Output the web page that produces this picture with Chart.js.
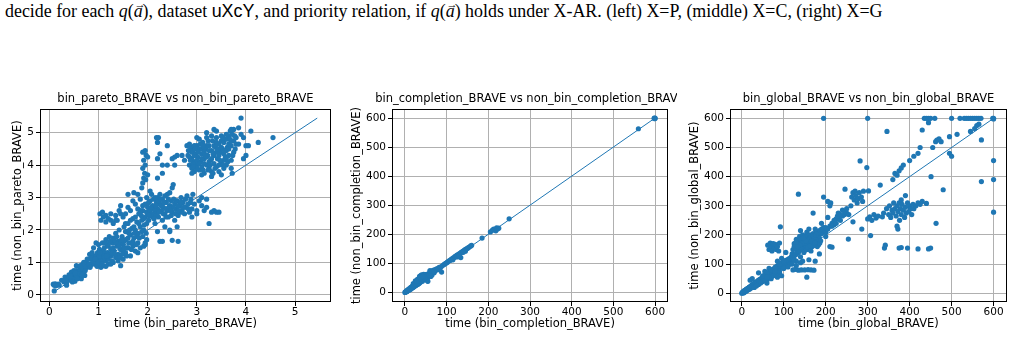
<!DOCTYPE html>
<html>
<head>
<meta charset="utf-8">
<script src="https://cdn.jsdelivr.net/npm/chart.js@4.4.1/dist/chart.umd.min.js"></script>
<style>
  html,body{margin:0;padding:0;background:#fff;}
  body{width:1013px;height:360px;overflow:hidden;position:relative;}
  #caption{position:absolute;left:5px;top:1px;font-family:'Liberation Serif',serif;font-size:17.9px;color:#000;white-space:nowrap;line-height:21px;}
  .vec{position:relative;display:inline-block;}
  .vec .arr{position:absolute;left:0.05em;top:-0.62em;font-size:0.62em;font-style:normal;}
  .wrap{position:absolute;top:85px;height:250px;overflow:hidden;}
  canvas{position:absolute;top:0;}
</style>
</head>
<body>
<div id="caption">decide for each <i>q</i>(<span class="vec"><i>a</i><span class="arr">&rarr;</span></span>), dataset <span style="font-family:'Liberation Sans',sans-serif">uXcY</span>, and priority relation, if <i>q</i>(<span class="vec"><i>a</i><span class="arr">&rarr;</span></span>) holds under X-AR. (left) X=P, (middle) X=C, (right) X=G</div>

<div class="wrap" style="left:0;width:371px;"><canvas id="c1" width="371" height="250" style="left:0"></canvas></div>
<div class="wrap" style="left:340px;width:337px;"><canvas id="c2" width="370" height="250" style="left:5px"></canvas></div>
<div class="wrap" style="left:680px;width:333px;"><canvas id="c3" width="367" height="250" style="left:5px"></canvas></div>

<script>
// ---------- DATA ----------
const paretoTitle = "bin_pareto_BRAVE vs non_bin_pareto_BRAVE";
const completionTitle = "bin_completion_BRAVE vs non_bin_completion_BRAVE";
const globalTitle = "bin_global_BRAVE vs non_bin_global_BRAVE";

const paretoTicks = [0, 1, 2, 3, 4, 5];
const secondsTicks = [0, 100, 200, 300, 400, 500, 600];

const paretoIdentity = [0.1, 5.45];
const completionIdentity = [0, 600];
const globalIdentity = [0, 600];

const paretoPoints = [
 [0.08,0.33],[0.1,0.3],[0.12,0.34],[0.15,0.31],[0.18,0.33],[0.2,0.3],[0.1,0.12],[0.13,0.28],
 [0.3,0.4],[0.32,0.55],[0.35,0.35],[0.38,0.5],[0.4,0.62],[0.42,0.45],[0.45,0.7],[0.48,0.55],[0.5,0.6],[0.52,0.42],[0.55,0.75],[0.55,0.9],[0.58,0.65],[0.6,0.55],[0.62,0.8],[0.65,0.7],[0.68,0.95],[0.7,0.85],[0.72,0.6],[0.75,1.0],[0.78,0.9],[0.8,1.1],[0.82,1.25],[0.85,0.95],[0.88,1.05],[0.9,1.45],[0.92,1.2],[0.95,1.0],[0.98,1.3],[1.0,0.9],[0.35,0.3],[0.45,0.5],[0.6,0.7],[0.65,0.5],[0.7,1.0],[0.5,0.75],[0.25,0.45],[0.4,0.55],
 [0.55,0.6],[0.62,0.65],[0.68,0.8],[0.75,0.85],[0.8,0.95],[0.85,1.15],[0.9,1.0],[0.92,0.95],[0.98,1.1],
 [0.33,0.45],[0.43,0.58],[0.47,0.4],[0.53,0.68],[0.57,0.5],[0.63,0.9],[0.67,0.62],[0.73,0.75],[0.77,1.1],[0.83,0.85],[0.87,1.3],[0.93,1.1],[0.97,0.88],
 [1.0,1.0],[1.02,1.4],[1.05,1.15],[1.05,0.85],[1.08,1.6],[1.1,1.25],[1.1,0.9],[1.12,1.45],[1.15,1.05],[1.15,1.7],[1.18,1.3],[1.2,1.5],[1.2,0.95],[1.22,1.8],[1.25,1.2],[1.25,1.4],[1.28,1.6],[1.3,1.0],[1.3,1.75],[1.32,1.35],[1.35,1.9],[1.35,1.15],[1.38,1.5],[1.4,1.25],[1.4,1.65],[1.42,2.0],[1.45,1.4],[1.45,0.9],[1.48,1.8],[1.5,1.55],[1.5,1.1],[1.52,2.1],[1.55,1.3],[1.55,1.7],[1.58,1.95],[1.6,1.45],[1.6,2.2],[1.62,1.6],[1.65,1.85],[1.65,1.2],[1.68,2.05],[1.7,1.5],[1.7,2.35],[1.72,1.75],[1.75,2.0],[1.75,1.35],[1.78,2.25],[1.8,1.6],[1.8,1.9],[1.82,2.5],[1.85,2.1],[1.85,1.45],[1.88,2.3],[1.9,1.8],[1.9,2.6],[1.92,2.0],[1.95,2.4],[1.95,1.55],[1.98,2.2],[0.95,1.6],[1.0,1.55],[1.1,1.35],[1.2,1.1],[1.3,1.45],[1.4,1.05],[1.5,1.35],[1.6,1.75],[1.7,1.65],[1.8,1.3],[1.25,0.95],[1.15,0.88],[1.45,1.6],[1.55,1.95],[1.35,1.6],[1.92,1.5],[1.95,1.6],[1.98,1.7],
 [1.02,1.2],[1.08,1.05],[1.12,1.15],[1.18,1.55],[1.22,1.25],[1.28,1.3],[1.32,1.7],[1.38,1.2],[1.42,1.5],[1.48,1.25],[1.52,1.65],[1.58,1.45],[1.62,1.9],[1.68,1.6],[1.72,2.1],[1.78,1.8],[1.82,2.2],[1.88,1.95],[1.92,2.35],[1.98,2.55],[1.75,2.4],[1.85,2.6],[1.9,2.75],[1.8,2.65],[1.65,2.3],[1.55,2.2],
 [1.03,1.3],[1.07,0.95],[1.13,1.6],[1.17,1.2],[1.23,1.65],[1.27,1.05],[1.33,1.25],[1.37,1.8],[1.43,1.15],[1.47,1.7],[1.53,1.45],[1.57,1.2],[1.63,2.0],[1.67,1.4],[1.73,1.9],[1.77,1.55],[1.83,1.75],[1.87,2.45],[1.93,2.15],[1.97,1.9],[1.15,2.45],[1.25,2.3],[1.45,2.5],[1.35,2.3],
 [1.03,2.5],[1.05,2.3],[1.08,2.55],[1.1,2.4],[1.15,2.25],[1.2,2.35],[1.25,2.5],[1.3,2.2],[1.35,2.45],[1.38,2.3],[1.42,2.6],[1.45,2.75],[1.5,2.4],[1.55,2.5],[1.6,2.7],[1.65,2.6],[1.7,2.9],[1.75,2.8],[1.8,3.1],[1.85,2.95],[1.72,3.15],[1.6,3.1],
 [1.95,2.8],[1.98,3.0],[2.0,2.5],[2.0,2.7],[2.02,2.3],[2.05,2.9],[2.05,2.6],[2.08,3.1],[2.1,2.4],[2.1,2.75],[2.12,2.95],[2.15,2.55],[2.15,2.2],[2.18,2.85],[2.2,2.65],[2.2,3.0],[2.22,2.4],[2.25,2.8],[2.28,2.6],[2.3,2.95],[2.3,2.3],[2.32,2.7],[2.35,2.5],[2.38,2.85],[2.4,3.1],[2.4,2.6],[2.42,2.4],[2.45,2.75],[2.48,2.9],[2.5,2.55],[2.5,3.3],[2.52,3.4],[2.55,2.8],[2.55,2.3],[2.58,2.65],[2.6,2.9],[2.62,2.45],[2.65,2.75],[2.68,3.0],[2.7,2.6],[2.72,2.85],[2.75,2.5],[2.78,2.7],[2.8,3.05],[2.82,2.8],[2.85,2.55],[2.88,2.95],[2.9,2.65],[2.92,3.1],[2.95,2.8],[3.0,2.6],[3.05,2.9],[3.1,2.75],[3.15,2.6],[3.2,2.7],[3.3,2.55],[3.4,2.55],[3.45,2.55],[3.25,2.2],[3.35,2.6],[3.2,2.95],[3.0,2.5],[2.9,2.4],[3.1,3.0],[2.45,2.0],[2.35,2.1],[2.2,1.95],[2.6,2.1],[2.25,1.65],[2.3,1.65],[2.5,1.68],[2.62,1.65],[2.45,1.95],
 [2.02,2.85],[2.08,2.5],[2.12,2.65],[2.18,2.45],[2.22,2.9],[2.28,2.75],[2.32,2.5],[2.38,2.65],[2.42,2.95],[2.48,2.45],[2.52,2.7],[2.58,2.9],[2.62,2.75],[2.68,2.55],[2.35,3.05],[2.25,3.1],[2.15,3.0],[2.05,3.2],[2.45,3.15],
 [2.03,2.45],[2.07,2.7],[2.13,2.35],[2.17,2.75],[2.23,2.55],[2.27,2.95],[2.33,2.85],[2.37,2.4],[2.43,2.7],[2.47,2.6],[2.53,2.95],[2.57,2.5],[2.63,2.6],[2.67,2.85],[2.73,2.7],[2.77,2.95],[2.83,2.65],[2.87,2.85],
 [1.9,3.45],[1.92,3.6],[1.94,3.75],[1.9,3.9],[1.95,4.0],[1.92,4.15],[1.97,4.3],[1.9,4.4],[1.95,4.45],[2.0,4.25],[1.88,3.3],[2.0,3.7],[1.96,3.55],
 [2.18,4.85],[2.22,4.85],[2.2,4.7],[2.2,4.2],[2.25,4.35],[2.2,3.6],[2.3,4.0],[2.4,4.0],[2.5,4.2],[2.55,4.25],[2.6,4.3],[2.7,4.3],[2.55,4.0],[2.4,4.6],[2.75,4.15],[2.3,3.75],
 [2.8,4.6],[2.82,4.3],[2.85,4.0],[2.88,4.55],[2.9,3.9],[2.9,4.2],[2.92,4.45],[2.95,4.1],[2.95,3.8],[2.98,4.35],[3.0,4.0],[3.0,4.6],[3.02,4.25],[3.05,3.85],[3.05,4.5],[3.08,4.1],[3.1,4.35],[3.1,3.95],[3.12,4.7],[3.15,4.2],[3.15,3.75],[3.18,4.5],[3.2,4.0],[3.2,5.0],[3.22,4.3],[3.25,4.6],[3.25,3.9],[3.28,4.15],[3.3,4.45],[3.3,3.8],[3.32,4.75],[3.35,4.05],[3.35,4.3],[3.38,4.55],[3.4,3.95],[3.4,4.85],[3.42,4.2],[3.45,4.65],[3.45,3.8],[3.48,4.4],[3.5,4.1],[3.5,4.9],[3.52,4.5],[3.55,3.9],[3.55,4.7],[3.58,4.25],[3.6,4.8],[3.6,4.0],[3.62,4.55],[3.65,4.9],[3.65,4.3],[3.68,5.05],[3.7,4.6],[3.7,4.15],[3.72,4.95],[3.75,4.75],[3.75,5.1],[3.78,4.5],[3.8,4.85],[3.7,3.9],[3.72,3.75],[3.5,3.7],[3.3,3.65],[3.1,3.7],[2.9,3.75],[3.05,4.8],[3.2,4.85],[3.35,5.1],[3.4,5.05],[3.0,4.85],[2.85,4.65],[3.6,4.45],[3.45,4.0],[3.25,4.45],[3.15,4.05],[2.95,4.6],[3.55,4.35],[3.65,4.65],
 [2.85,4.25],[2.9,4.4],[2.95,4.3],[3.0,4.15],[3.05,4.05],[3.1,4.5],[3.15,4.4],[3.2,4.25],[3.25,4.1],[3.3,4.2],[3.35,4.6],[3.4,4.4],[3.45,4.3],[3.5,4.55],[3.55,4.15],[3.6,4.2],[3.65,4.5],[3.7,4.75],[3.75,4.4],[3.8,4.65],[3.0,3.9],[3.1,4.2],[3.2,4.6],[3.3,4.9],[3.5,4.75],[3.6,4.95],[3.7,5.1],[3.4,4.7],[3.15,4.55],[2.92,4.05],
 [2.83,4.45],[2.87,4.15],[2.93,3.95],[2.97,4.5],[3.03,4.4],[3.07,4.65],[3.13,3.85],[3.17,4.3],[3.23,4.75],[3.27,4.0],[3.33,4.35],[3.37,3.9],[3.43,4.5],[3.47,4.15],[3.53,4.85],[3.57,4.45],[3.63,4.1],[3.67,4.8],[3.73,4.3],[3.77,4.9],[3.33,3.75],[3.13,4.6],[3.53,4.0],[3.23,3.85],
 [3.9,5.45],[3.85,5.15],[4.1,5.05],[3.95,4.85],[4.0,4.6],[4.05,4.6],[4.25,4.7],[4.55,4.85],[4.0,4.3],[3.95,4.2],[3.85,4.65],[3.9,4.95]
];

const completionPoints = [
 [0,0],[1,1],[2,3],[3,2],[4,5],[5,4],[6,8],[7,6],[8,10],[9,7],[10,12],[11,9],[12,14],[13,11],[14,17],[15,13],[16,18],[17,15],[18,22],[19,17],[20,24],[21,19],[22,26],[23,21],[24,28],[25,23],[26,30],[27,25],[28,32],[29,27],[30,35],[31,28],[32,38],[33,30],[34,45],[35,55],[36,33],[38,58],[40,42],[40,60],[42,38],[44,50],[45,45],[46,52],[48,60],[50,55],[50,48],[52,62],[54,40],[55,58],[56,52],[58,65],[60,62],[60,70],[62,55],[64,72],[65,60],[66,75],[68,70],[70,68],[70,78],[72,74],[75,80],[78,82],[80,78],[82,86],[85,85],[88,90],[88,70],[92,94],[95,97],[98,100],
 [30,45],[25,40],[38,50],[55,38],[20,30],[45,62],[65,68],
 [2,1],[4,3],[6,5],[8,7],[10,9],[12,11],[14,13],[16,15],[18,17],[20,20],[22,22],[24,24],[26,27],[28,29],[30,30],[32,33],[34,34],[36,38],[38,40],[40,45],[42,44],[44,46],[46,48],[48,52],[50,52],[52,55],[55,60],[58,60],[62,66],[68,72],[72,76],[76,78],[35,48],[42,55],[28,38],[60,75],[65,72],[70,72],
 [100,102],[102,104],[105,108],[108,110],[110,112],[112,115],[115,118],[118,120],[120,123],[122,125],[125,128],[128,130],[130,133],[133,135],[134,120],[135,138],[138,140],[140,142],[142,145],[145,148],[148,150],[150,152],[152,154],[155,157],[158,160],[160,162],
 [115,112],[125,122],[130,125],[145,142],[140,138],
 [185,187],[205,208],[210,214],[213,218],[216,216],[218,212],[220,222],[222,218],[225,221],[250,253],[560,563],[598,600],[600,600],[600,598],[598,598]
];

const globalPoints = [
 [0,0],[2,3],[3,1],[4,6],[5,2],[6,8],[7,4],[8,10],[9,6],[10,12],[11,8],[12,14],[13,10],[14,16],[15,12],[16,18],[17,14],[18,20],[19,15],[20,22],[22,18],[24,28],[25,20],[26,30],[28,24],[30,35],[32,28],[34,38],[35,30],[36,40],[38,34],[40,45],[42,38],[44,48],[45,40],[46,50],[48,44],[50,55],[52,48],[54,60],[55,50],[56,62],[58,54],[60,65],[62,58],[64,70],[65,60],[66,72],[68,64],[70,75],[72,68],[74,80],[75,70],[76,84],[78,74],[80,88],[82,78],[84,92],[85,80],[86,95],[88,85],[90,98],[92,88],[94,102],[95,92],[96,105],[98,95],[100,108],[102,98],[104,112],[105,100],[108,115],[110,105],[112,118],[115,110],[118,125],[120,115],
 [1,2],[3,4],[5,7],[7,9],[9,11],[11,13],[13,15],[15,17],[17,19],[19,21],[21,24],[23,25],[27,29],[29,31],[31,33],[33,36],[37,39],[39,42],[41,44],[43,46],[47,49],[49,52],[51,54],[53,56],[57,59],[59,62],[61,64],[63,66],[67,69],[69,72],[71,74],[73,76],[77,79],[79,82],[81,84],[83,86],[87,90],[89,92],[91,94],[93,96],[97,100],[99,102],[101,104],[103,106],[106,110],[109,112],[111,114],[114,118],[116,120],[119,122],
 [30,20],[40,30],[50,40],[60,45],[70,55],[75,60],[80,65],[90,75],[100,90],[20,45],[25,50],[40,70],[55,75],[65,85],[85,110],[95,120],[110,95],[115,100],[120,135],[105,140],
 [60,35],[70,50],[90,70],[100,85],[110,90],[120,100],[130,110],[140,105],[95,60],[85,55],
 [45,35],[55,45],[65,55],[35,25],[50,60],[60,70],[70,80],[80,90],[90,100],[100,110],[80,75],[60,55],
 [62,165],[65,150],[68,172],[70,160],[72,145],[75,170],[78,155],[80,168],[82,150],[85,160],[88,145],[90,172],[92,228],
 [122,150],[125,170],[128,160],[130,185],[132,145],[135,175],[138,195],[140,160],[142,180],[145,150],[145,200],[148,170],[150,185],[150,160],[152,195],[155,175],[155,210],[158,165],[160,180],[160,150],[162,200],[165,170],[165,190],[168,160],[170,185],[170,205],[172,175],[175,195],[175,165],[178,210],[180,180],[182,200],[185,190],[148,140],[135,140],[165,145],[180,160],[190,205],[195,215],[200,195],[160,220],[140,215],
 [125,160],[130,150],[135,165],[140,185],[145,175],[150,170],[155,190],[160,195],[165,180],[170,165],[175,180],[145,160],[155,160],[160,170],[150,195],[140,150],[168,175],[158,150],[172,192],[152,148],
 [122,126],[124,128],[126,130],[128,132],[130,135],[132,138],[134,142],[137,146],[139,150],[141,154],[143,158],[146,162],[149,166],[151,170],[153,172],[156,178],[159,182],[161,186],[163,190],[166,194],[169,198],[171,195],[173,188],[176,182],[179,176],[181,170],[183,166],[186,172],[188,180],[152,180],[147,190],[143,170],[138,165],[133,160],[129,175],[157,158],[163,162],[167,178],[174,172],[177,200],[180,208],[185,215],[190,220],[195,225],[200,210],[205,220],[210,230],[215,240],[220,235],[225,255],[230,260],[235,250],[240,265],[245,270],[250,275],
 [122,80],[128,82],[135,79],[142,80],[150,80],[158,81],[165,80],[172,79],[155,55],[130,95],[145,110],[160,115],[125,115],[175,110],[185,135],[140,125],
 [135,340],[170,275],[175,220],[190,240],[195,330],[200,225],[205,260],[205,315],[210,300],[212,310],[210,160],[215,158],[215,230],[220,250],[225,240],[228,265],[230,275],[235,270],[240,285],[245,280],[246,357],[250,290],[255,270],[254,186],[260,300],[262,330],[265,345],[268,320],[270,350],[272,335],[275,310],[278,325],[280,345],[282,454],[285,330],[288,315],[290,350],[265,245],[286,220],[298,431],[302,351],[307,198],[300,255],[305,262],[310,250],[315,270],[320,258],[325,265],[330,371],[335,262],[338,275],[340,155],[342,165],[346,555],[345,290],[350,270],[352,300],[355,260],[358,285],[360,275],[362,310],[365,290],[368,265],[370,300],[372,280],[375,310],[376,250],[378,290],[380,270],[382,305],[385,285],[388,260],[390,295],[392,275],[395,310],[398,280],[400,300],[402,290],[405,270],[408,305],[410,290],[415,300],[420,310],[425,305],[430,315],[440,308],[390,335],[380,320],[370,230],[372,220],[375,155],[380,157],[395,155],[420,152],[445,152],[450,155],[365,411],[370,405],[375,420],[380,430],[385,440],[360,390],[400,455],[410,470],[420,480],[425,500],[430,560],[445,585],[455,500],[462,520],[465,525],[470,530],[475,520],[480,355],[463,240],[451,400],[495,480],[500,470],[495,537],[513,545],[545,555],[555,565],[560,575],[565,580],[571,526],[571,383],[600,455],[600,390],[600,278],
 [195,600],[300,600],[435,600],[440,600],[445,600],[450,600],[460,600],[500,600],[520,600],[530,600],[535,600],[540,600],[545,600],[550,600],[555,600],[560,600],[565,600],[570,600],[598,600],[600,600],[600,598]
];

// ---------- CHART ----------
const BLUE = '#1f77b4';
const FONT = "'DejaVu Sans', sans-serif";

const framePlugin = {
  id: 'frame',
  afterDraw(chart) {
    const {ctx, chartArea: a} = chart;
    ctx.save();
    ctx.strokeStyle = '#000';
    ctx.lineWidth = 1;
    ctx.strokeRect(Math.round(a.left) + 0.5, Math.round(a.top) + 0.5,
                   Math.round(a.right - a.left) - 1, Math.round(a.bottom - a.top) - 1);
    ctx.restore();
  }
};

function axis(opts) {
  const isX = opts.axis === 'x';
  return {
    type: 'linear',
    position: isX ? 'bottom' : 'left',
    min: opts.min,
    max: opts.max,
    afterFit(s) { if (isX) s.height = 33; else s.width = opts.size; },
    afterBuildTicks(s) { s.ticks = opts.ticks.map(v => ({value: v})); },
    grid: { color: '#b0b0b0', lineWidth: 1, tickLength: 4, tickColor: '#000', drawTicks: true },
    border: { display: false },
    ticks: { color: '#000', font: { family: FONT, size: 10.5 }, padding: isX ? 0 : 2, autoSkip: false, maxRotation: 0,
             callback: v => String(v) },
    title: { display: true, text: opts.title, color: '#000', font: { family: FONT, size: 11.5 },
             padding: isX ? { top: 0, bottom: 4 } : { top: opts.titlePad, bottom: 0 } }
  };
}

// empty right-hand axis, as wide as the left one, so the title is centred over the plot
function spacerAxis(size, yr) {
  return {
    type: 'linear', position: 'right', min: yr[0], max: yr[1],
    afterFit(s) { s.width = size; },
    grid: { display: false }, border: { display: false },
    ticks: { display: false }, title: { display: false }
  };
}

function makeChart(id, title, points, identity, xr, yr, ticks, ySize, yTitlePad, xTitle, yTitle) {
  new Chart(document.getElementById(id), {
    data: {
      datasets: [
        { type: 'scatter', data: points.map(p => ({x: p[0], y: p[1]})), xAxisID: 'x', yAxisID: 'y',
          backgroundColor: BLUE, borderWidth: 0, pointRadius: 2.6, pointHoverRadius: 2.6, order: 2 },
        { type: 'line', data: [{x: identity[0], y: identity[0]}, {x: identity[1], y: identity[1]}], xAxisID: 'x', yAxisID: 'y',
          borderColor: BLUE, borderWidth: 1, pointRadius: 0, fill: false, order: 1 }
      ]
    },
    options: {
      responsive: false, animation: false, devicePixelRatio: 1,
      layout: { padding: 0 },
      plugins: {
        legend: { display: false }, tooltip: { enabled: false },
        title: { display: true, text: title, color: '#000', font: { family: FONT, size: 11.5, weight: 'normal' },
                 padding: { top: 7.1, bottom: 3.1 } }
      },
      scales: {
        x: axis({axis: 'x', min: xr[0], max: xr[1], ticks: ticks, title: xTitle}),
        y: axis({axis: 'y', min: yr[0], max: yr[1], ticks: ticks, title: yTitle, size: ySize, titlePad: yTitlePad}),
        yr: spacerAxis(ySize, yr)
      }
    },
    plugins: [framePlugin]
  });
}

makeChart('c1', paretoTitle, paretoPoints, paretoIdentity, [-0.19, 5.73], [-0.22, 5.73], paretoTicks,
          40, 11, 'time (bin_pareto_BRAVE)', 'time (non_bin_pareto_BRAVE)');
makeChart('c2', completionTitle, completionPoints, completionIdentity, [-31, 631], [-33, 631], secondsTicks,
          47, 5, 'time (bin_completion_BRAVE)', 'time (non_bin_completion_BRAVE)');
makeChart('c3', globalTitle, globalPoints, globalIdentity, [-28, 632], [-30, 632], secondsTicks,
          45, 3, 'time (bin_global_BRAVE)', 'time (non_bin_global_BRAVE)');
</script>
</body>
</html>
